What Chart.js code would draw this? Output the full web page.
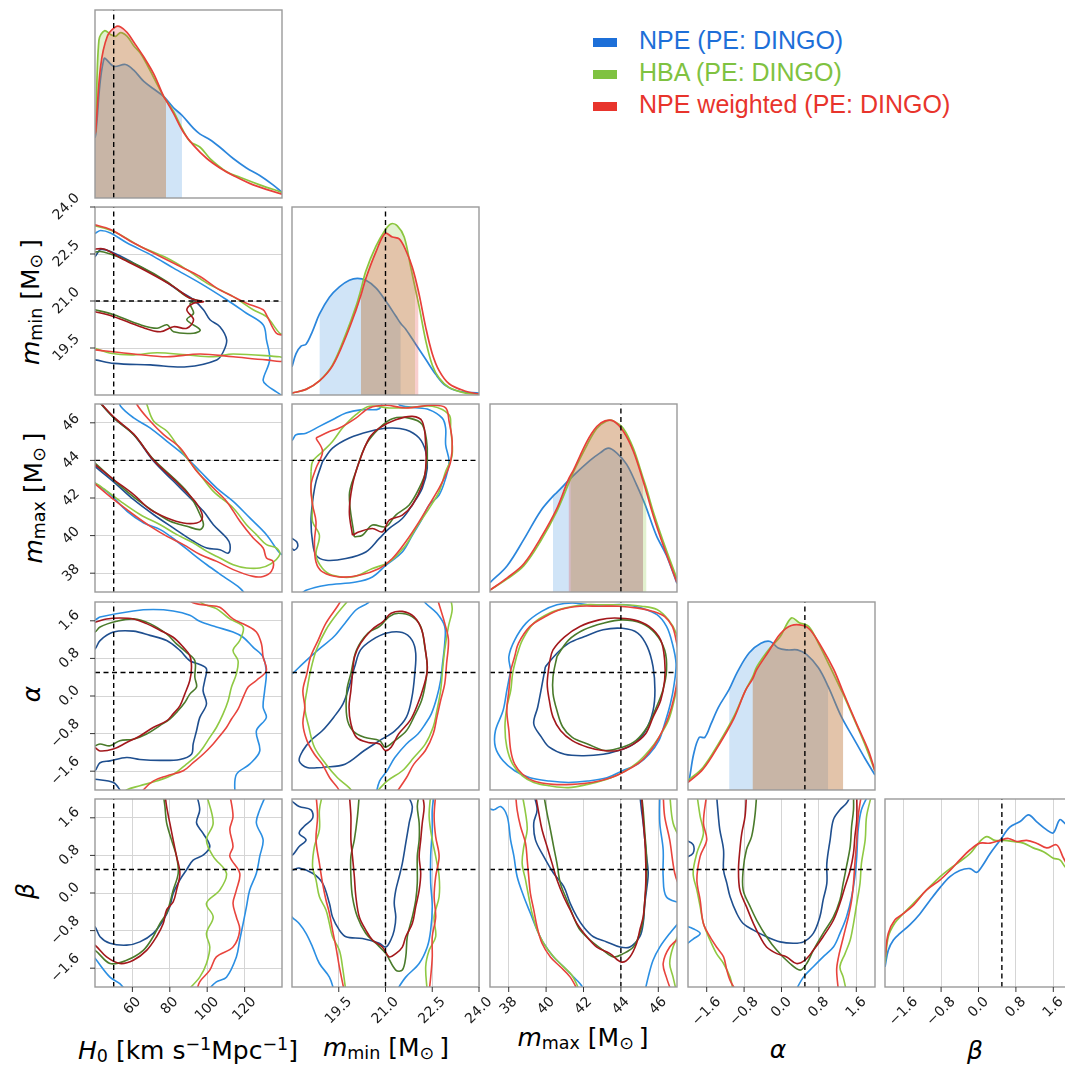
<!DOCTYPE html>
<html>
<head>
<meta charset="utf-8">
<title>Corner plot</title>
<script src="https://cdn.jsdelivr.net/npm/chart.js@4.4.1/dist/chart.umd.min.js"></script>
<style>
  html, body { margin: 0; padding: 0; background: #fff; }
  body { position: relative; width: 1065px; height: 1066px; overflow: hidden; font-family: "DejaVu Sans", sans-serif; }
  canvas { position: absolute; }
  .legend { position: absolute; left: 593px; font: 25px "Liberation Sans", Arial, sans-serif; line-height: 30px; white-space: nowrap; }
  .legend .sw { display: inline-block; width: 24px; height: 9px; margin-right: 22px; vertical-align: middle; }
  .ax { position: absolute; transform: translate(-50%, -50%); font-size: 25px; line-height: 1; white-space: nowrap; color: #000; }
  .ax.rot { transform: translate(-50%, -50%) rotate(-90deg); }
  .ax sub, .ax sup { font-size: 0.7em; line-height: 0; }
  .ax sub { vertical-align: -0.22em; }
  .ax sup { vertical-align: 0.5em; }
</style>
</head>
<body>

<div class="legend" style="top:25px;color:#1d6fd8"><span class="sw" style="background:#1d6fd8"></span>NPE (PE: DINGO)</div>
<div class="legend" style="top:57px;color:#7fc241"><span class="sw" style="background:#7fc241"></span>HBA (PE: DINGO)</div>
<div class="legend" style="top:89px;color:#e8342c"><span class="sw" style="background:#e8342c"></span>NPE weighted (PE: DINGO)</div>

<div class="ax" style="left:188px;top:1050px"><i>H</i><sub>0</sub> [km s<sup>−1</sup>Mpc<sup>−1</sup>]</div>
<div class="ax" style="left:386px;top:1047px"><i>m</i><sub>min</sub> [M<sub>⊙</sub>&thinsp;]</div>
<div class="ax" style="left:583px;top:1037px"><i>m</i><sub>max</sub> [M<sub>⊙</sub>&thinsp;]</div>
<div class="ax" style="left:778px;top:1049px"><i>α</i></div>
<div class="ax" style="left:975px;top:1050px"><i>β</i></div>
<div class="ax rot" style="left:30px;top:302px"><i>m</i><sub>min</sub> [M<sub>⊙</sub>&thinsp;]</div>
<div class="ax rot" style="left:33px;top:498px"><i>m</i><sub>max</sub> [M<sub>⊙</sub>&thinsp;]</div>
<div class="ax rot" style="left:31px;top:694px"><i>α</i></div>
<div class="ax rot" style="left:25px;top:891px"><i>β</i></div>

<script>
'use strict';

// parameters: H0, m_min, m_max, alpha, beta
const RANGES = [[40, 140], [18, 24], [37, 47], [-2, 2], [-2, 2]];
const TICKS = [
  [60, 80, 100, 120],
  [19.5, 21.0, 22.5, 24.0],
  [38, 40, 42, 44, 46],
  [-1.6, -0.8, 0.0, 0.8, 1.6],
  [-1.6, -0.8, 0.0, 0.8, 1.6]
];
const DECIMALS = [0, 1, 0, 1, 1];
const TRUTH = [50, 21.0, 44, 0.5, 0.5];

// ---- 1D marginals (relative density) and credible intervals ----
const H0_NPE = [[40,0.32],[40.4,0.34],[44.8,0.74],[50.1,0.70],[56.3,0.71],[60.7,0.68],[66.1,0.62],[71.4,0.58],[76.7,0.54],[82.0,0.48],[86.5,0.44],[92.7,0.37],[96.2,0.34],[101.5,0.31],[106.8,0.27],[113.9,0.21],[121.0,0.16],[128.1,0.12],[135.2,0.07],[140,0.03]];
const H0_HBA = [[40,0.34],[40.4,0.36],[42.1,0.84],[45.1,0.89],[48.3,0.87],[51.0,0.86],[53.7,0.88],[57.2,0.86],[60.7,0.81],[64.3,0.77],[67.8,0.71],[71.4,0.64],[76.7,0.54],[78.0,0.52],[82.0,0.46],[86.5,0.37],[90.9,0.30],[96.2,0.27],[101.5,0.21],[110.4,0.14],[117.5,0.11],[128.1,0.07],[140,0.03]];
const H0_NPEW = [[40,0.34],[40.4,0.36],[43.0,0.70],[46.6,0.86],[51.0,0.91],[53.7,0.91],[57.2,0.88],[60.7,0.83],[66.1,0.75],[71.4,0.66],[76.7,0.54],[78.0,0.52],[82.0,0.45],[87.3,0.35],[92.7,0.28],[99.8,0.21],[106.8,0.16],[113.9,0.12],[124.6,0.07],[140,0.02]];
const H0_CI = [[40, 86.5], [40, 78.0], [40, 78.0]];

const MMIN_NPE = [[18.0,0.15],[18.13,0.22],[18.29,0.26],[18.45,0.27],[18.66,0.34],[18.88,0.43],[19.2,0.52],[19.52,0.575],[19.84,0.61],[20.1,0.62],[20.37,0.61],[20.69,0.57],[21.01,0.50],[21.33,0.42],[21.49,0.38],[21.65,0.35],[21.97,0.27],[22.29,0.19],[22.61,0.11],[22.93,0.05],[23.36,0.02],[24,0.01]];
const MMIN_HBA = [[18,0.01],[18.45,0.03],[18.88,0.075],[19.3,0.16],[19.73,0.325],[20.05,0.47],[20.21,0.56],[20.37,0.66],[20.69,0.79],[20.96,0.87],[21.17,0.91],[21.38,0.90],[21.6,0.84],[21.81,0.68],[21.95,0.57],[22.08,0.47],[22.29,0.29],[22.5,0.16],[22.72,0.09],[23.04,0.04],[23.57,0.01],[24,0.005]];
const MMIN_NPEW = [[18,0.01],[18.45,0.03],[18.88,0.075],[19.3,0.155],[19.73,0.31],[20.05,0.45],[20.21,0.53],[20.37,0.62],[20.69,0.76],[20.99,0.86],[21.22,0.84],[21.44,0.83],[21.65,0.77],[21.86,0.68],[22.06,0.55],[22.29,0.36],[22.5,0.22],[22.72,0.13],[23.04,0.06],[23.57,0.02],[24,0.005]];
const MMIN_CI = [[18.88, 21.49], [20.21, 21.95], [20.21, 22.06]];

const MMAX_NPE = [[37,0.05],[37.92,0.14],[38.81,0.28],[39.7,0.43],[40.37,0.51],[40.58,0.53],[41.47,0.62],[42.35,0.70],[42.89,0.74],[43.33,0.765],[43.77,0.74],[44.3,0.68],[44.84,0.57],[45.19,0.49],[45.37,0.445],[45.9,0.30],[46.43,0.196],[47,0.045]];
const MMAX_HBA = [[37,0.01],[37.92,0.07],[38.81,0.14],[39.7,0.27],[40.58,0.43],[41.3,0.60],[41.47,0.64],[42.18,0.78],[42.71,0.87],[43.24,0.91],[43.6,0.91],[44.13,0.87],[44.66,0.765],[45.19,0.605],[45.37,0.55],[45.72,0.43],[46.26,0.27],[47,0.07]];
const MMAX_NPEW = [[37,0.01],[37.92,0.075],[38.81,0.15],[39.7,0.285],[40.58,0.445],[41.2,0.60],[41.47,0.65],[42.18,0.80],[42.71,0.88],[43.15,0.91],[43.6,0.91],[44.13,0.855],[44.66,0.75],[45.19,0.59],[45.72,0.41],[46.26,0.25],[47,0.05]];
const MMAX_CI = [[40.37, 45.19], [41.3, 45.37], [41.2, 45.19]];

const ALPHA_NPE = [[-2,0.04],[-1.97,0.06],[-1.88,0.19],[-1.76,0.28],[-1.64,0.28],[-1.51,0.35],[-1.35,0.44],[-1.12,0.535],[-0.94,0.63],[-0.69,0.73],[-0.44,0.78],[-0.24,0.79],[-0.07,0.755],[0.13,0.745],[0.34,0.745],[0.54,0.72],[0.79,0.65],[1.0,0.55],[1.28,0.39],[1.53,0.28],[1.78,0.17],[2.0,0.08]];
const ALPHA_HBA = [[-2,0.05],[-1.68,0.12],[-1.35,0.245],[-1.02,0.39],[-0.77,0.53],[-0.62,0.60],[-0.53,0.655],[-0.28,0.745],[-0.03,0.815],[0.21,0.915],[0.38,0.89],[0.58,0.87],[0.79,0.78],[1.04,0.655],[1.28,0.53],[1.32,0.51],[1.53,0.39],[1.78,0.245],[2.0,0.10]];
const ALPHA_NPEW = [[-2,0.04],[-1.68,0.11],[-1.35,0.235],[-1.02,0.38],[-0.77,0.53],[-0.62,0.59],[-0.53,0.64],[-0.28,0.735],[-0.03,0.83],[0.21,0.875],[0.46,0.875],[0.62,0.85],[0.87,0.755],[1.12,0.64],[1.32,0.52],[1.61,0.35],[1.86,0.21],[2.0,0.10]];
const ALPHA_CI = [[-1.12, 1.0], [-0.62, 1.32], [-0.62, 1.32]];

const BETA_NPE = [[-2,0.107],[-1.93,0.196],[-1.82,0.25],[-1.68,0.285],[-1.47,0.33],[-1.25,0.39],[-1.04,0.46],[-0.82,0.53],[-0.61,0.587],[-0.40,0.62],[-0.18,0.63],[-0.04,0.61],[0.07,0.64],[0.25,0.71],[0.46,0.78],[0.67,0.85],[0.89,0.88],[1.07,0.916],[1.24,0.88],[1.46,0.836],[1.60,0.82],[1.74,0.89],[1.85,0.87],[2.0,0.85]];
const BETA_HBA = [[-2,0.125],[-1.93,0.267],[-1.79,0.34],[-1.61,0.39],[-1.39,0.445],[-1.11,0.516],[-0.82,0.587],[-0.61,0.63],[-0.40,0.667],[-0.18,0.71],[0.03,0.774],[0.18,0.80],[0.35,0.78],[0.53,0.78],[0.74,0.774],[0.96,0.765],[1.17,0.74],[1.39,0.72],[1.60,0.685],[1.74,0.676],[1.85,0.64],[2.0,0.6]];
const BETA_NPEW = [[-2,0.16],[-1.93,0.285],[-1.79,0.356],[-1.61,0.39],[-1.39,0.436],[-1.11,0.516],[-0.82,0.57],[-0.61,0.62],[-0.40,0.676],[-0.18,0.73],[0.03,0.765],[0.25,0.765],[0.46,0.78],[0.64,0.79],[0.82,0.774],[1.03,0.78],[1.24,0.765],[1.46,0.74],[1.67,0.756],[1.81,0.69],[2.0,0.6]];
const BETA_CI = [null, null, null];

// ---- 2D contours (50% and 90%), each a list of pieces ----
// m_min vs H0
const MMIN_H0_NPE_90 = [[[38,23.1],[40.4,23.17],[43.0,23.25],[48.3,23.17],[57.2,22.85],[69.6,22.48],[82.0,22.05],[96.2,21.57],[110.4,21.04],[121.0,20.61],[129.9,20.24],[131.7,19.76],[133.4,19.12],[129.9,18.48],[131.7,18.32],[137.0,18.10],[142,17.9]]];
const MMIN_H0_NPE_50 = [[[38,22.4],[40,22.42],[43.0,22.64],[48.3,22.58],[60.7,22.21],[74.9,21.73],[85.6,21.30],[92.7,21.04],[98.0,20.72],[101.5,20.40],[106.8,20.18],[110.4,19.76],[108.6,19.38],[105.1,19.12],[89.1,18.90],[69.6,18.96],[50.1,19.01],[40,19.12],[38,19.12]]];
const MMIN_H0_HBA_50 = [[[38,22.53],[43.0,22.58],[51.9,22.42],[64.3,22.10],[78.5,21.62],[89.1,21.14],[96.2,20.98],[90.9,20.93],[92.7,20.61],[89.1,20.40],[96.2,20.08],[92.7,19.97],[82.0,20.02],[78.5,20.24],[73.2,20.13],[64.3,20.24],[50.1,20.56],[40,20.72],[38,20.74]]];
const MMIN_H0_NPEW_50 = [[[38,22.64],[44.8,22.66],[53.7,22.37],[67.8,21.94],[82.0,21.46],[90.9,21.09],[98.0,20.98],[92.7,20.93],[89.1,20.72],[92.7,20.40],[89.1,20.13],[82.0,20.18],[74.9,20.02],[64.3,20.18],[50.1,20.50],[40,20.66],[38,20.68]]];
const MMIN_H0_HBA_90 = [[[38,23.42],[40,23.40],[50.1,23.22],[64.3,22.74],[78.5,22.37],[89.1,22.0],[99.8,21.57],[113.9,21.14],[124.6,20.72],[131.7,20.50],[138.8,19.97],[142,19.9],[142,19.2],[138.8,19.22],[113.9,19.31],[103.3,19.22],[89.1,19.28],[73.2,19.35],[60.7,19.28],[48.3,19.33],[40,19.49],[38,19.5]]];
const MMIN_H0_NPEW_90 = [[[38,23.45],[40,23.43],[48.3,23.28],[60.7,22.85],[74.9,22.42],[85.6,22.10],[96.2,21.78],[105.1,21.41],[113.9,21.14],[121.0,20.93],[129.9,20.72],[131.7,20.56],[137.0,19.97],[142,19.86],[142,19.12],[131.7,19.12],[113.9,19.22],[96.2,19.31],[78.5,19.22],[60.7,19.31],[40,19.44],[38,19.45]]];

// m_max vs H0
const MMAX_H0_NPE_90 = [
  [[52.8,47.3],[53.7,46.88],[60.7,46.26],[69.6,45.72],[78.5,45.01],[87.3,44.30],[96.2,43.42],[105.1,42.53],[113.9,41.82],[122.8,40.94],[131.7,40.05],[138.8,39.07],[142,38.9]],
  [[38,42.95],[40,42.8],[48.3,42.18],[57.2,41.29],[66.1,40.67],[74.9,40.32],[83.8,39.70],[92.7,38.99],[99.8,38.45],[108.6,37.83],[117.5,37.21],[121,36.8]]
];
const MMAX_H0_NPE_50 = [[[38,47.6],[50.1,46.26],[60.7,45.37],[71.4,43.95],[82.0,42.89],[90.9,42.0],[98.0,41.29],[103.3,40.58],[110.4,39.87],[112.2,39.52],[111.3,39.07],[106.8,39.25],[99.8,39.34],[92.7,39.70],[82.0,40.40],[71.4,41.11],[60.7,41.91],[50.1,42.85],[40,43.68],[38,43.9]]];
const MMAX_H0_HBA_50 = [[[38,47.6],[50.1,46.26],[60.7,45.37],[71.4,44.04],[82.0,43.06],[89.1,42.35],[92.7,41.82],[96.2,41.11],[98.0,40.58],[96.2,40.32],[89.1,40.5],[80.2,40.76],[71.4,41.29],[62.5,41.91],[52.8,42.71],[40,43.86],[38,44.0]]];
const MMAX_H0_NPEW_50 = [[[38,47.6],[50.1,46.3],[60.7,45.4],[71.4,44.0],[82.0,43.0],[89.1,42.3],[94.4,41.7],[97.1,41.2],[97.1,40.85],[94.4,40.67],[87.3,40.67],[78.5,40.94],[69.6,41.38],[60.7,42.18],[50.1,42.97],[40,43.77],[38,43.9]]];
const MMAX_H0_NPEW_90 = [[[62.2,47.3],[62.5,46.96],[69.6,46.08],[76.7,45.37],[85.6,44.66],[94.4,43.42],[103.3,42.53],[110.4,41.82],[117.5,40.76],[124.6,39.87],[129.9,39.34],[131.7,38.81],[135.2,38.63],[134.3,38.10],[129.9,37.83],[124.6,37.83],[113.9,38.19],[105.1,38.63],[96.2,38.99],[87.3,39.52],[78.5,39.96],[69.6,40.49],[60.7,41.11],[50.1,41.91],[40,42.75],[38,42.9]]];
const MMAX_H0_HBA_90 = [[[67,47.3],[67.8,46.96],[71.4,46.08],[78.5,45.55],[83.8,44.84],[89.1,44.13],[96.2,43.24],[103.3,42.35],[113.9,41.47],[121.0,40.58],[126.3,40.05],[131.7,39.52],[137.0,39.34],[138.8,39.0],[134,38.5],[128.1,38.28],[121,38.28],[113.9,38.45],[106.8,38.81],[99.8,39.16],[92.7,39.61],[83.8,40.05],[74.9,40.58],[64.3,41.11],[53.7,41.82],[43.0,42.62],[40,42.80],[38,42.95]]];

// alpha vs H0
const ALPHA_H0_NPE_90 = [[[38,1.66],[40,1.62],[42.7,1.68],[60.5,1.81],[71.1,1.84],[81.8,1.81],[90.7,1.72],[96.0,1.59],[104.9,1.47],[113.8,1.36],[119.2,1.25],[124.5,1.04],[129.9,0.83],[131.6,0.47],[130.7,0.11],[129.9,-0.24],[131.6,-0.46],[126.3,-0.74],[128.1,-1.17],[122.7,-1.45],[115.6,-1.67],[114.7,-2.1]]];
const ALPHA_H0_NPE_50 = [
  [[38,1.0],[40,1.0],[42.7,1.18],[49.8,1.36],[60.5,1.38],[69.4,1.29],[78.3,1.18],[85.4,0.97],[90.7,0.75],[96.0,0.67],[99.6,0.58],[98.7,0.33],[97.8,0.11],[99.6,-0.17],[96.0,-0.46],[94.3,-0.74],[92.5,-1.02],[91.6,-1.24],[85.4,-1.35],[74.7,-1.37],[64.0,-1.35],[56.9,-1.31],[48.0,-1.38],[42.7,-1.42],[40,-1.59],[38,-1.6]],
  [[38,-1.76],[40,-1.77],[49.8,-1.84],[53.3,-2.0],[54,-2.1]]
];
const ALPHA_H0_NPEW_50 = [[[38,1.58],[40,1.57],[46.2,1.64],[53.3,1.66],[60.5,1.64],[67.6,1.54],[74.7,1.40],[81.8,1.25],[87.2,1.04],[90.7,0.86],[91.6,0.61],[90.7,0.33],[88.0,0.04],[85.4,-0.21],[81.8,-0.38],[78.3,-0.53],[71.1,-0.67],[64.0,-0.85],[56.9,-0.99],[49.8,-1.13],[42.7,-1.17],[40,-1.10],[38,-1.1]]];
const ALPHA_H0_HBA_50 = [[[38,1.4],[40,1.36],[42.7,1.47],[51.6,1.59],[60.5,1.64],[69.4,1.54],[78.3,1.32],[83.6,1.11],[88.9,0.93],[93.4,0.75],[93.4,0.40],[94.3,0.19],[90.7,0.04],[88.0,-0.14],[84.5,-0.31],[80.0,-0.49],[74.7,-0.63],[67.6,-0.81],[60.5,-0.92],[53.3,-0.95],[48.0,-1.06],[42.7,-1.02],[40,-1.06],[38,-1.06]]];
const ALPHA_H0_NPEW_90 = [[[91,2.15],[91.6,2.0],[99.6,1.93],[106.7,1.89],[113.8,1.64],[121.0,1.50],[126.3,1.36],[129.0,1.11],[129.9,0.83],[131.6,0.54],[126.3,0.33],[121.9,0.19],[119.2,-0.03],[116.5,-0.28],[113.0,-0.49],[110.3,-0.67],[106.7,-0.85],[103.2,-1.02],[97.8,-1.24],[92.5,-1.42],[87.2,-1.59],[78.3,-1.70],[71.1,-1.81],[65.8,-2.0],[64.9,-2.1]]];
const ALPHA_H0_HBA_90 = [[[93.4,2.1],[97.8,1.96],[104.9,1.86],[112.1,1.64],[119.2,1.47],[117.4,1.18],[113.8,0.97],[116.5,0.75],[115.6,0.47],[113.0,0.19],[111.2,-0.10],[108.5,-0.38],[104.9,-0.67],[101.4,-0.88],[97.8,-1.10],[94.3,-1.27],[88.9,-1.45],[81.8,-1.67],[72.9,-1.81],[64.0,-1.91],[56.9,-2.0],[55.1,-2.1]]];

// beta vs H0
const BETA_H0_NPEW_50 = [[[38,-1.1],[40,-1.11],[46.2,-1.36],[53.3,-1.50],[60.5,-1.43],[67.6,-1.22],[72.9,-0.93],[76.5,-0.65],[78.3,-0.36],[81.8,-0.19],[83.6,0.06],[85.4,0.42],[83.6,0.78],[81.8,1.13],[80.0,1.49],[78.3,1.84],[77.4,2.1]]];
const BETA_H0_HBA_50 = [[[38,-1.25],[40,-1.22],[48.0,-1.50],[56.9,-1.43],[65.8,-1.22],[71.1,-0.93],[74.7,-0.65],[78.3,-0.43],[80.0,-0.22],[81.8,0.06],[84.5,0.42],[83.6,0.78],[80.9,1.13],[78.3,1.49],[77.4,1.84],[76.5,2.1]]];
const BETA_H0_NPE_50 = [[[38,-0.72],[40,-0.72],[42.7,-0.93],[48.0,-1.07],[56.9,-1.11],[64.0,-1.04],[71.1,-0.86],[76.5,-0.58],[80.0,-0.29],[81.8,-0.01],[85.4,0.28],[88.9,0.49],[92.5,0.70],[98.0,0.81],[101.4,0.99],[97.8,1.27],[94.3,1.49],[96.0,1.77],[94.3,2.1]]];
const BETA_H0_NPE_90 = [
  [[131.6,2.1],[128.1,1.77],[126.3,1.49],[129.9,1.13],[128.1,0.78],[126.3,0.42],[122.7,0.06],[121.0,-0.29],[119.2,-0.65],[117.4,-1.0],[115.6,-1.36],[110.3,-1.79],[104.9,-1.89],[99.6,-2.1]],
  [[38,-1.3],[40,-1.39],[48.0,-1.79],[53.3,-1.93],[56.9,-2.1]]
];
const BETA_H0_NPEW_90 = [[[112.1,2.1],[113.8,1.63],[112.1,1.35],[113.8,0.99],[112.1,0.78],[117.4,0.42],[115.6,0.06],[113.8,-0.22],[115.6,-0.51],[117.4,-0.79],[113.8,-1.15],[104.9,-1.36],[101.4,-1.64],[96.0,-1.89],[94.3,-2.1]]];
const BETA_H0_HBA_90 = [[[99.6,2.1],[103.2,1.49],[99.6,1.13],[103.2,0.78],[110.3,0.42],[106.7,0.06],[99.6,-0.22],[103.2,-0.51],[99.6,-0.86],[101.4,-1.15],[99.6,-1.50],[96.0,-1.79],[88.9,-2.1]]];

// m_max vs m_min
const MMAX_MMIN_NPE_90 = [
  [[17.98,45.06],[18.02,45.10],[18.13,45.36],[18.45,45.45],[18.88,45.81],[19.30,46.16],[19.73,46.52],[20.26,46.70],[20.80,46.75],[20.92,47.3]],
  [[21.36,47.3],[21.44,46.96],[21.86,46.82],[22.40,46.70],[22.82,46.25],[22.93,45.72],[22.93,44.83],[23.04,43.94],[22.93,43.05],[22.72,42.16],[22.40,41.63],[22.18,40.91],[21.86,40.02],[21.54,39.13],[21.01,38.42],[20.58,37.80],[20.05,37.53],[19.09,37.36],[18.45,37.09],[18.23,36.8]]
];
const MMAX_MMIN_NPE_50 = [
  [[18.98,43.94],[18.77,42.87],[18.66,41.80],[18.61,40.74],[18.66,39.67],[18.77,38.96],[19.09,38.69],[19.73,38.78],[20.37,39.13],[20.80,39.85],[21.12,40.38],[21.54,40.91],[21.86,41.63],[22.18,42.52],[22.34,43.58],[22.29,44.47],[22.08,45.19],[21.65,45.63],[21.12,45.72],[20.48,45.54],[19.84,45.19],[19.30,44.65],[18.98,43.94]],
  [[17.9,39.9],[18.0,39.85],[18.15,39.67],[18.18,39.40],[18.07,39.22],[18.0,39.31],[17.9,39.3]]
];
const MMAX_MMIN_NPEW_50 = [[[19.94,40.02],[19.84,41.27],[19.94,42.69],[20.16,43.94],[20.48,45.19],[20.80,45.72],[21.33,46.16],[21.86,46.34],[22.18,46.07],[22.29,44.83],[22.29,43.58],[22.18,42.69],[21.86,41.63],[21.54,41.09],[21.12,40.82],[20.90,40.20],[20.58,40.38],[20.16,40.20],[19.94,40.02]]];
const MMAX_MMIN_HBA_50 = [[[20.0,39.93],[19.84,42.16],[20.05,43.41],[20.37,44.83],[20.80,45.72],[21.22,46.22],[21.76,46.25],[22.18,45.90],[22.34,44.65],[22.29,43.41],[22.08,42.52],[21.76,41.63],[21.33,41.09],[21.01,40.47],[20.58,40.56],[20.26,40.02],[20.0,39.93]]];
const MMAX_MMIN_NPEW_90 = [[[18.77,45.19],[19.20,45.54],[19.52,45.72],[20.05,46.25],[20.48,46.79],[21.01,46.93],[21.65,46.79],[22.50,46.93],[22.93,46.79],[23.04,46.07],[23.14,45.01],[23.09,43.94],[22.93,43.23],[22.72,42.52],[22.40,41.63],[22.08,40.74],[21.65,39.67],[21.22,38.78],[20.80,38.25],[20.16,37.89],[19.52,37.80],[18.98,38.07],[18.77,38.60],[18.72,39.67],[18.77,40.74],[18.66,41.63],[18.61,42.69],[18.77,43.58],[18.98,44.47],[18.77,45.19]]];
const MMAX_MMIN_HBA_90 = [[[18.61,43.41],[18.66,43.94],[18.98,44.47],[19.30,45.01],[19.62,45.72],[20.05,46.43],[20.48,46.88],[21.12,46.79],[21.86,46.82],[22.50,46.88],[23.04,46.43],[23.09,45.72],[23.14,44.29],[22.93,43.41],[22.72,42.34],[22.40,41.45],[21.97,40.38],[21.65,39.49],[21.12,38.60],[20.58,38.25],[19.94,37.80],[19.30,37.89],[18.98,38.25],[18.77,38.96],[18.88,40.02],[18.66,40.74],[18.66,41.63],[18.61,42.52],[18.61,43.41]]];

// alpha vs m_min
const ALPHA_MMIN_NPE_90 = [
  [[17.9,0.44],[18.02,0.48],[18.35,0.69],[18.84,0.98],[19.34,1.26],[19.70,1.55],[20.07,1.84],[20.44,1.98],[20.56,2.1]],
  [[22.16,2.1],[22.28,1.98],[22.65,1.76],[22.90,1.48],[22.90,1.12],[22.83,0.69],[22.77,0.34],[22.65,-0.02],[22.47,-0.38],[22.28,-0.59],[22.04,-0.81],[21.67,-1.02],[21.30,-1.31],[21.05,-1.59],[20.81,-1.81],[20.69,-2.1]]
];
const ALPHA_MMIN_NPE_50 = [[[18.97,-1.52],[19.70,-1.45],[20.32,-1.16],[20.81,-0.95],[21.30,-0.74],[21.67,-0.45],[21.85,-0.02],[21.94,0.48],[21.97,0.91],[21.85,1.19],[21.54,1.35],[21.05,1.34],[20.56,1.19],[20.20,0.98],[20.01,0.62],[19.83,0.19],[19.64,-0.16],[19.34,-0.45],[18.97,-0.74],[18.60,-0.95],[18.35,-1.16],[18.23,-1.38],[18.48,-1.52],[18.97,-1.52]]];
const ALPHA_MMIN_NPEW_50 = [[[19.95,0.55],[19.89,0.12],[19.83,-0.24],[19.89,-0.59],[20.07,-0.88],[20.44,-0.99],[20.81,-1.02],[20.99,-1.16],[21.18,-1.09],[21.42,-0.81],[21.79,-0.52],[22.04,-0.16],[22.22,0.19],[22.34,0.55],[22.28,0.98],[22.16,1.41],[21.91,1.69],[21.54,1.80],[21.18,1.76],[20.93,1.59],[20.56,1.41],[20.20,1.12],[20.01,0.84],[19.95,0.55]]];
const ALPHA_MMIN_HBA_50 = [[[19.89,0.48],[19.76,0.12],[19.76,-0.45],[19.95,-0.74],[20.32,-0.88],[20.81,-0.95],[20.99,-1.09],[21.30,-0.95],[21.67,-0.74],[21.91,-0.45],[22.16,-0.09],[22.28,0.26],[22.34,0.62],[22.26,1.05],[22.13,1.48],[21.85,1.69],[21.42,1.76],[21.12,1.69],[20.81,1.48],[20.44,1.34],[20.07,0.98],[19.89,0.48]]];
const ALPHA_MMIN_NPEW_90 = [
  [[19.64,2.1],[19.46,1.91],[19.09,1.55],[18.84,1.19],[18.60,0.84],[18.48,0.48],[18.35,0.12],[18.41,-0.24],[18.35,-0.59],[18.48,-0.95],[18.72,-1.24],[18.97,-1.45],[19.21,-1.74],[19.46,-1.95],[19.58,-2.1]],
  [[21.30,-2.1],[21.67,-1.74],[21.91,-1.45],[22.28,-1.16],[22.53,-0.81],[22.65,-0.45],[22.77,-0.09],[22.90,0.26],[22.96,0.69],[23.02,1.19],[22.90,1.55],[22.77,1.84],[22.65,2.1]]
];
const ALPHA_MMIN_HBA_90 = [
  [[19.89,2.1],[19.46,1.76],[19.09,1.41],[18.78,0.98],[18.60,0.55],[18.48,0.12],[18.41,-0.24],[18.54,-0.66],[18.72,-1.09],[19.09,-1.45],[19.46,-1.74],[19.83,-1.95],[20.01,-2.1]],
  [[20.63,-2.1],[21.05,-1.81],[21.54,-1.59],[21.91,-1.31],[22.28,-1.02],[22.53,-0.66],[22.65,-0.31],[22.77,0.12],[22.83,0.55],[22.90,0.98],[23.02,1.48],[23.14,1.84],[23.08,2.1]]
];

// beta vs m_min
const BETA_MMIN_NPE_50 = [
  [[17.9,1.98],[18.0,1.95],[18.23,1.84],[18.61,1.77],[18.66,1.59],[18.39,1.42],[18.23,1.27],[18.45,1.13],[18.23,0.99],[18.02,0.81],[17.9,0.8]],
  [[17.9,0.55],[18.0,0.49],[18.23,0.53],[18.66,0.42],[18.98,0.21],[19.20,-0.22],[19.30,-0.51],[19.52,-0.79],[19.73,-0.93],[20.26,-0.97],[20.80,-1.07],[21.01,-1.15],[21.17,-1.0],[21.28,-0.79],[21.33,-0.51],[21.28,-0.22],[21.33,0.06],[21.44,0.35],[21.54,0.63],[21.65,1.06],[21.76,1.49],[21.86,1.84],[21.70,2.1]]
];
const BETA_MMIN_NPEW_50 = [[[19.84,2.1],[19.89,1.63],[19.89,1.13],[19.94,0.78],[20.0,0.35],[20.05,-0.08],[20.16,-0.51],[20.37,-0.79],[20.58,-1.0],[20.90,-1.15],[21.12,-1.36],[21.33,-1.29],[21.54,-1.15],[21.65,-0.93],[21.86,-0.65],[21.97,-0.29],[22.08,0.06],[22.13,0.42],[22.08,0.78],[22.13,1.13],[22.18,1.49],[22.24,1.84],[22.18,2.1]]];
const BETA_MMIN_HBA_50 = [[[20.16,2.1],[20.10,1.63],[20.0,1.13],[19.89,0.78],[19.89,0.35],[19.94,-0.08],[20.10,-0.51],[20.37,-0.86],[20.69,-1.07],[21.01,-1.29],[21.33,-1.64],[21.54,-1.64],[21.65,-1.36],[21.70,-0.93],[21.86,-0.51],[21.97,-0.15],[22.02,0.21],[22.02,0.78],[22.08,1.13],[22.08,1.49],[22.02,1.84],[22.08,2.1]]];
const BETA_MMIN_NPE_90 = [
  [[17.9,-0.4],[18.0,-0.51],[18.23,-0.65],[18.45,-0.86],[18.66,-1.15],[18.88,-1.50],[19.20,-1.79],[19.36,-2.1]],
  [[21.33,-2.1],[21.65,-1.79],[22.08,-1.50],[22.34,-1.15],[22.45,-0.79],[22.50,-0.29],[22.45,0.21],[22.45,0.78],[22.50,1.35],[22.50,1.77],[22.56,2.1]]
];
const BETA_MMIN_NPEW_90 = [
  [[18.77,2.1],[18.82,1.63],[18.77,1.13],[18.88,0.63],[18.98,0.21],[19.09,-0.15],[19.20,-0.43],[19.30,-0.79],[19.41,-1.15],[19.52,-1.57],[19.68,-2.1]],
  [[22.61,2.1],[22.56,1.63],[22.61,1.20],[22.72,0.78],[22.61,0.35],[22.56,-0.08],[22.61,-0.51],[22.50,-0.93],[22.50,-1.36],[22.45,-1.79],[22.40,-2.1]]
];
const BETA_MMIN_HBA_90 = [
  [[18.98,2.1],[18.88,1.77],[18.88,1.35],[18.72,0.99],[18.66,0.56],[18.77,0.28],[18.88,-0.08],[19.09,-0.36],[19.20,-0.65],[19.30,-0.93],[19.52,-1.22],[19.62,-1.57],[19.73,-2.1]],
  [[22.45,2.1],[22.40,1.63],[22.50,1.13],[22.61,0.78],[22.72,0.35],[22.72,-0.08],[22.56,-0.51],[22.61,-0.93],[22.40,-1.22],[22.29,-1.57],[22.34,-2.1]]
];

// alpha vs m_max
const ALPHA_MMAX_NPE_90 = [[[38.11,0.55],[38.01,0.84],[38.32,1.19],[38.93,1.55],[39.76,1.80],[40.58,1.94],[41.40,1.98],[42.22,1.94],[43.25,1.94],[44.28,1.94],[45.10,1.87],[45.93,1.73],[46.44,1.48],[46.75,1.12],[46.95,0.69],[46.85,0.26],[46.65,-0.16],[46.34,-0.59],[46.03,-0.95],[45.51,-1.24],[44.90,-1.45],[44.08,-1.59],[43.25,-1.74],[42.22,-1.81],[41.20,-1.84],[40.17,-1.81],[39.14,-1.74],[38.32,-1.59],[37.70,-1.38],[37.29,-1.09],[37.29,-0.74],[37.70,-0.31],[37.90,0.12],[38.11,0.55]]];
const ALPHA_MMAX_NPE_50 = [[[39.96,0.62],[39.76,0.19],[39.55,-0.24],[39.34,-0.59],[39.76,-0.88],[40.17,-1.09],[40.99,-1.24],[42.02,-1.27],[43.05,-1.24],[43.87,-1.16],[44.69,-1.02],[45.31,-0.74],[45.72,-0.31],[45.82,0.12],[45.72,0.62],[45.41,1.05],[44.90,1.34],[44.08,1.44],[43.05,1.41],[42.02,1.26],[41.20,1.12],[40.58,0.91],[39.96,0.62]]];
const ALPHA_MMAX_NPEW_50 = [[[40.17,0.69],[40.37,0.98],[40.99,1.26],[41.81,1.48],[42.84,1.62],[43.66,1.66],[44.69,1.62],[45.51,1.48],[46.13,1.19],[46.34,0.76],[46.34,0.34],[46.13,-0.09],[45.72,-0.45],[45.31,-0.81],[44.69,-1.02],[43.87,-1.16],[43.05,-1.16],[42.22,-1.09],[41.40,-0.95],[40.78,-0.74],[40.37,-0.45],[40.17,-0.09],[40.06,0.26],[40.17,0.69]]];
const ALPHA_MMAX_HBA_50 = [[[40.58,0.84],[41.20,1.19],[42.02,1.41],[43.05,1.55],[44.08,1.62],[45.10,1.55],[45.82,1.34],[46.34,0.98],[46.44,0.55],[46.24,0.12],[45.82,-0.31],[45.41,-0.66],[44.80,-0.95],[44.08,-1.09],[43.15,-1.16],[42.22,-1.02],[41.40,-0.88],[40.89,-0.66],[40.58,-0.31],[40.37,0.05],[40.37,0.41],[40.58,0.84]]];
const ALPHA_MMAX_NPEW_90 = [[[38.11,0.55],[38.32,0.84],[38.52,1.12],[39.14,1.48],[39.96,1.69],[40.78,1.84],[41.81,1.91],[42.84,1.91],[43.87,1.91],[44.90,1.87],[45.72,1.80],[46.34,1.69],[46.75,1.48],[46.95,1.19],[47.1,0.84],[47.06,0.48],[46.85,-0.02],[46.54,-0.45],[46.13,-0.81],[45.72,-1.09],[45.10,-1.38],[44.28,-1.59],[43.46,-1.74],[42.43,-1.84],[41.40,-1.88],[40.37,-1.88],[39.34,-1.81],[38.73,-1.66],[38.32,-1.45],[38.11,-1.16],[38.01,-0.74],[37.90,-0.31],[38.01,0.12],[38.11,0.55]]];
const ALPHA_MMAX_HBA_90 = [[[38.42,0.84],[38.73,1.19],[39.34,1.55],[40.17,1.76],[40.99,1.87],[42.02,1.94],[43.05,1.94],[44.08,1.94],[45.10,1.91],[45.93,1.84],[46.54,1.62],[46.95,1.34],[47.2,0.84],[47.06,0.34],[46.85,-0.09],[46.54,-0.52],[46.03,-0.88],[45.51,-1.16],[44.90,-1.41],[44.08,-1.63],[43.25,-1.77],[42.22,-1.88],[41.20,-1.95],[40.17,-1.91],[39.34,-1.84],[38.73,-1.70],[38.21,-1.45],[37.90,-1.09],[37.80,-0.66],[37.90,-0.24],[38.11,0.12],[38.21,0.48],[38.42,0.84]]];

// beta vs m_max
const BETA_MMAX_NPE_90 = [
  [[36.86,1.81],[37.21,1.77],[37.57,1.84],[37.92,1.63],[38.10,1.13],[38.28,0.78],[38.45,0.35],[38.81,-0.08],[39.16,-0.43],[39.52,-0.79],[39.87,-1.07],[40.40,-1.36],[40.94,-1.57],[41.47,-1.79],[41.82,-1.93],[42.09,-2.1]],
  [[46.08,2.1],[46.08,1.49],[46.26,0.92],[46.26,0.35],[46.43,-0.08],[47.2,-0.22]],
  [[47.2,-0.58],[46.61,-0.86],[46.08,-1.15],[45.72,-1.43],[45.46,-1.79],[45.28,-2.1]]
];
const BETA_MMAX_NPEW_90 = [
  [[38.37,2.1],[38.45,1.77],[38.63,1.42],[38.90,1.06],[38.99,0.70],[39.07,0.35],[39.16,-0.01],[39.34,-0.36],[39.52,-0.72],[39.78,-1.07],[40.23,-1.36],[40.76,-1.57],[41.29,-1.79],[41.73,-2.1]],
  [[46.26,2.1],[46.34,1.63],[46.61,1.13],[46.88,0.42],[47.2,0.06]],
  [[47.2,-0.93],[46.61,-1.15],[46.26,-1.50],[46.43,-1.79],[46.70,-2.1]]
];
const BETA_MMAX_HBA_90 = [
  [[38.72,2.1],[38.90,1.70],[38.99,1.35],[38.81,0.99],[38.72,0.63],[38.90,0.28],[39.07,-0.08],[39.25,-0.43],[39.52,-0.79],[39.87,-1.07],[40.32,-1.32],[40.85,-1.54],[41.38,-1.75],[41.82,-2.1]],
  [[46.61,2.1],[46.79,1.49],[47.2,1.13]],
  [[47.2,-0.79],[46.79,-1.15],[46.61,-1.50],[46.79,-1.79],[46.97,-2.1]]
];
const BETA_MMAX_NPE_50 = [[[39.34,2.1],[39.52,1.77],[39.34,1.49],[39.43,1.13],[39.87,0.78],[40.40,0.42],[40.94,0.14],[41.29,-0.22],[41.65,-0.51],[42.0,-0.72],[42.53,-0.93],[43.24,-1.04],[43.95,-1.15],[44.48,-1.15],[45.01,-0.93],[45.19,-0.65],[45.28,-0.22],[45.37,0.06],[45.46,0.42],[45.37,0.78],[45.28,1.13],[45.19,1.49],[45.10,1.77],[45.01,2.1]]];
const BETA_MMAX_NPEW_50 = [[[39.43,2.1],[39.61,1.70],[39.78,1.35],[40.05,0.99],[40.32,0.63],[40.58,0.28],[40.94,-0.08],[41.29,-0.36],[41.65,-0.65],[42.18,-0.93],[42.71,-1.15],[43.42,-1.29],[44.04,-1.47],[44.48,-1.36],[44.84,-1.07],[45.01,-0.79],[45.19,-0.51],[45.28,-0.15],[45.33,0.21],[45.33,0.63],[45.28,1.13],[45.19,1.56],[45.10,2.1]]];
const BETA_MMAX_HBA_50 = [[[39.87,2.1],[40.05,1.70],[40.23,1.35],[40.40,0.99],[40.58,0.63],[40.76,0.21],[41.11,-0.15],[41.47,-0.51],[41.82,-0.79],[42.35,-1.0],[43.06,-1.22],[43.60,-1.36],[44.13,-1.29],[44.66,-1.15],[45.01,-0.86],[45.19,-0.58],[45.28,-0.15],[45.37,0.28],[45.37,0.78],[45.28,1.27],[45.19,1.77],[45.10,2.1]]];

// beta vs alpha
const BETA_ALPHA_NPE_50 = [
  [[-1.39,2.1],[-1.35,1.63],[-1.32,1.35],[-1.24,0.92],[-1.24,0.49],[-1.17,0.21],[-1.10,-0.08],[-0.96,-0.43],[-0.82,-0.65],[-0.60,-0.79],[-0.32,-0.93],[-0.03,-1.04],[0.25,-1.07],[0.47,-1.04],[0.68,-0.86],[0.82,-0.51],[0.89,-0.15],[0.97,0.21],[0.97,0.63],[1.04,1.13],[1.11,1.56],[1.25,1.77],[1.39,1.91],[1.50,2.1]],
  [[-2.06,1.13],[-1.89,1.03],[-1.89,0.85],[-2.06,0.74]]
];
const BETA_ALPHA_NPEW_50 = [[[-0.75,2.1],[-0.78,1.63],[-0.85,1.27],[-0.89,0.92],[-0.92,0.49],[-0.89,0.06],[-0.75,-0.29],[-0.60,-0.65],[-0.46,-0.93],[-0.32,-1.15],[-0.10,-1.29],[0.11,-1.36],[0.32,-1.50],[0.50,-1.43],[0.68,-1.22],[0.89,-0.93],[1.11,-0.58],[1.25,-0.22],[1.36,0.14],[1.47,0.49],[1.54,0.85],[1.57,1.20],[1.61,1.56],[1.61,2.1]]];
const BETA_ALPHA_HBA_50 = [[[-0.53,2.1],[-0.57,1.63],[-0.64,1.20],[-0.75,0.92],[-0.82,0.49],[-0.82,0.06],[-0.67,-0.29],[-0.53,-0.58],[-0.32,-0.93],[-0.10,-1.22],[0.18,-1.50],[0.40,-1.64],[0.54,-1.50],[0.68,-1.22],[0.89,-0.86],[1.11,-0.51],[1.25,-0.15],[1.32,0.21],[1.39,0.56],[1.47,0.99],[1.50,1.42],[1.54,1.77],[1.54,2.1]]];
const BETA_ALPHA_NPE_90 = [
  [[1.86,2.1],[1.71,1.77],[1.64,1.35],[1.61,0.78],[1.57,0.35],[1.50,-0.08],[1.39,-0.51],[1.25,-0.86],[1.11,-1.15],[0.89,-1.36],[0.68,-1.57],[0.47,-1.79],[0.29,-2.1]],
  [[-2.05,-1.1],[-1.89,-0.98],[-1.74,-0.86],[-1.89,-0.76],[-2.05,-0.7]]
];
const BETA_ALPHA_NPEW_90 = [
  [[-1.60,2.1],[-1.67,1.49],[-1.60,1.13],[-1.74,0.78],[-1.81,0.28],[-1.74,-0.15],[-1.67,-0.65],[-1.53,-0.93],[-1.39,-1.15],[-1.24,-1.36],[-1.17,-1.64],[-1.10,-1.86],[-0.96,-2.1]],
  [[1.71,2.1],[1.64,1.63],[1.61,1.13],[1.57,0.63],[1.54,0.21],[1.50,-0.15],[1.43,-0.51],[1.36,-0.79],[1.29,-1.07],[1.22,-1.36],[1.18,-1.64],[1.22,-2.1]]
];
const BETA_ALPHA_HBA_90 = [
  [[-1.81,2.1],[-1.74,1.63],[-1.67,1.27],[-1.81,0.85],[-1.89,0.42],[-1.81,0.06],[-1.74,-0.29],[-1.67,-0.65],[-1.53,-1.0],[-1.39,-1.29],[-1.24,-1.50],[-1.10,-1.79],[-1.03,-2.1]],
  [[1.93,2.1],[1.82,1.63],[1.79,1.13],[1.71,0.63],[1.68,0.21],[1.61,-0.22],[1.54,-0.65],[1.47,-1.0],[1.36,-1.29],[1.25,-1.57],[1.32,-1.79],[1.39,-2.1]]
];

// ---- tables built from the arrays above ----
const DIAG = [
  [[H0_NPE, H0_HBA, H0_NPEW], H0_CI],
  [[MMIN_NPE, MMIN_HBA, MMIN_NPEW], MMIN_CI],
  [[MMAX_NPE, MMAX_HBA, MMAX_NPEW], MMAX_CI],
  [[ALPHA_NPE, ALPHA_HBA, ALPHA_NPEW], ALPHA_CI],
  [[BETA_NPE, BETA_HBA, BETA_NPEW], BETA_CI]
];

// [row, col, [npe50, npe90], [hba50, hba90], [npew50, npew90]]
const PAIRS = [
  [1, 0, [MMIN_H0_NPE_50, MMIN_H0_NPE_90], [MMIN_H0_HBA_50, MMIN_H0_HBA_90], [MMIN_H0_NPEW_50, MMIN_H0_NPEW_90]],
  [2, 0, [MMAX_H0_NPE_50, MMAX_H0_NPE_90], [MMAX_H0_HBA_50, MMAX_H0_HBA_90], [MMAX_H0_NPEW_50, MMAX_H0_NPEW_90]],
  [3, 0, [ALPHA_H0_NPE_50, ALPHA_H0_NPE_90], [ALPHA_H0_HBA_50, ALPHA_H0_HBA_90], [ALPHA_H0_NPEW_50, ALPHA_H0_NPEW_90]],
  [4, 0, [BETA_H0_NPE_50, BETA_H0_NPE_90], [BETA_H0_HBA_50, BETA_H0_HBA_90], [BETA_H0_NPEW_50, BETA_H0_NPEW_90]],
  [2, 1, [MMAX_MMIN_NPE_50, MMAX_MMIN_NPE_90], [MMAX_MMIN_HBA_50, MMAX_MMIN_HBA_90], [MMAX_MMIN_NPEW_50, MMAX_MMIN_NPEW_90]],
  [3, 1, [ALPHA_MMIN_NPE_50, ALPHA_MMIN_NPE_90], [ALPHA_MMIN_HBA_50, ALPHA_MMIN_HBA_90], [ALPHA_MMIN_NPEW_50, ALPHA_MMIN_NPEW_90]],
  [4, 1, [BETA_MMIN_NPE_50, BETA_MMIN_NPE_90], [BETA_MMIN_HBA_50, BETA_MMIN_HBA_90], [BETA_MMIN_NPEW_50, BETA_MMIN_NPEW_90]],
  [3, 2, [ALPHA_MMAX_NPE_50, ALPHA_MMAX_NPE_90], [ALPHA_MMAX_HBA_50, ALPHA_MMAX_HBA_90], [ALPHA_MMAX_NPEW_50, ALPHA_MMAX_NPEW_90]],
  [4, 2, [BETA_MMAX_NPE_50, BETA_MMAX_NPE_90], [BETA_MMAX_HBA_50, BETA_MMAX_HBA_90], [BETA_MMAX_NPEW_50, BETA_MMAX_NPEW_90]],
  [4, 3, [BETA_ALPHA_NPE_50, BETA_ALPHA_NPE_90], [BETA_ALPHA_HBA_50, BETA_ALPHA_HBA_90], [BETA_ALPHA_NPEW_50, BETA_ALPHA_NPEW_90]]
];

// styles: npe, hba, npe weighted (higher order is drawn earlier)
const STYLES = [
  { line: '#2b86dc', inner: '#1f4f8f', outer: '#2b8fe3', fill: 'rgba(43,134,220,0.22)', order: 6 },
  { line: '#8cc63f', inner: '#4a7b2b', outer: '#8fc943', fill: 'rgba(140,198,63,0.25)', order: 4 },
  { line: '#e8403a', inner: '#a3181c', outer: '#e8443d', fill: 'rgba(232,64,58,0.25)', order: 2 }
];

// ---- layout ----
const COL_X = [95, 292, 490, 688, 885];
const ROW_Y = [10, 207, 404, 602, 799];
const PW = 187, PH = 188, PAD = 60;

function fmt(v, d) {
  const s = Math.abs(v).toFixed(d);
  return v < 0 ? '\u2212' + s : s;
}

const cornerPlugin = {
  id: 'corner',
  afterDraw(chart, args, o) {
    const { ctx, chartArea: a } = chart;
    const sx = chart.scales.x, sy = chart.scales.y;
    ctx.save();
    ctx.strokeStyle = '#9a9a9a';
    ctx.lineWidth = 1.4;
    ctx.strokeRect(a.left, a.top, a.right - a.left, a.bottom - a.top);

    ctx.font = '14px "DejaVu Sans"';
    ctx.fillStyle = '#1a1a1a';
    ctx.strokeStyle = '#333';
    ctx.lineWidth = 1;
    ctx.textAlign = 'center';
    ctx.textBaseline = 'middle';
    if (o.xLabels) {
      o.xLabels.forEach(v => {
        const x = sx.getPixelForValue(v), t = fmt(v, o.xDec);
        ctx.beginPath(); ctx.moveTo(x, a.bottom); ctx.lineTo(x, a.bottom + 5); ctx.stroke();
        const b = (ctx.measureText(t).width + 10) * Math.SQRT1_2;
        ctx.save();
        ctx.translate(x, a.bottom + 9 + b / 2);
        ctx.rotate(-Math.PI / 4);
        ctx.fillText(t, 0, 0);
        ctx.restore();
      });
    }
    if (o.yLabels) {
      o.yLabels.forEach(v => {
        const y = sy.getPixelForValue(v), t = fmt(v, o.yDec);
        ctx.beginPath(); ctx.moveTo(a.left - 5, y); ctx.lineTo(a.left, y); ctx.stroke();
        const b = (ctx.measureText(t).width + 10) * Math.SQRT1_2;
        ctx.save();
        ctx.translate(a.left - 14 - b / 2, y);
        ctx.rotate(-Math.PI / 4);
        ctx.fillText(t, 0, 0);
        ctx.restore();
      });
    }
    ctx.restore();
  }
};

function curve(points, color, width, order, extra) {
  return Object.assign({
    data: points.map(p => ({ x: p[0], y: p[1] })),
    borderColor: color,
    borderWidth: width,
    pointRadius: 0,
    tension: 0.35,
    fill: false,
    clip: 0,
    order: order
  }, extra || {});
}

function truthLine(xs, ys) {
  return curve([[xs[0], ys[0]], [xs[1], ys[1]]], '#000', 1.4, -1, { borderDash: [5, 3.5], tension: 0 });
}

function makePanel(row, col, datasets, yRange, yTicks, gridY, labelY) {
  const cv = document.createElement('canvas');
  cv.width = PW + 2 * PAD;
  cv.height = PH + 2 * PAD;
  cv.style.left = (COL_X[col] - PAD) + 'px';
  cv.style.top = (ROW_Y[row] - PAD) + 'px';
  document.body.appendChild(cv);

  const axis = (range, ticks, grid) => ({
    type: 'linear',
    min: range[0],
    max: range[1],
    grid: { display: grid, color: '#d5d5d5', lineWidth: 1, drawTicks: false },
    border: { display: false },
    ticks: { display: false },
    afterBuildTicks: s => { s.ticks = ticks.map(v => ({ value: v })); }
  });

  const bottom = row === 4;
  new Chart(cv, {
    type: 'line',
    data: { datasets: datasets },
    options: {
      responsive: false,
      animation: false,
      events: [],
      layout: { padding: PAD },
      elements: { line: { capBezierPoints: false }, point: { radius: 0 } },
      plugins: {
        legend: { display: false },
        tooltip: { enabled: false },
        corner: {
          xLabels: bottom ? TICKS[col] : null, xDec: DECIMALS[col],
          yLabels: labelY ? TICKS[row] : null, yDec: DECIMALS[row]
        }
      },
      scales: {
        x: axis(RANGES[col], TICKS[col], bottom),
        y: axis(yRange, yTicks, gridY)
      }
    },
    plugins: [cornerPlugin]
  });
}

// diagonal panels: each method draws its line, then its shaded interval on top
DIAG.forEach(([curves, cis], i) => {
  const sets = [];
  curves.forEach((c, k) => {
    const st = STYLES[k];
    const ci = cis[k];
    sets.push(curve(c, st.line, 1.7, st.order));
    if (ci) {
      sets.push(curve(c.filter(p => p[0] >= ci[0] && p[0] <= ci[1]), 'rgba(0,0,0,0)', 0, st.order - 1,
        { fill: 'origin', backgroundColor: st.fill }));
    }
  });
  sets.push(truthLine([TRUTH[i], TRUTH[i]], [0, 1]));
  makePanel(i, i, sets, [0, 1], [], false, false);
});

// off-diagonal panels
PAIRS.forEach(([row, col, ...methods]) => {
  const sets = [];
  methods.forEach(([inner, outer], k) => {
    const st = STYLES[k];
    outer.forEach(piece => sets.push(curve(piece, st.outer, 1.6, st.order)));
    inner.forEach(piece => sets.push(curve(piece, st.inner, 1.6, st.order)));
  });
  sets.push(truthLine([TRUTH[col], TRUTH[col]], RANGES[row]));
  sets.push(truthLine(RANGES[col], [TRUTH[row], TRUTH[row]]));
  makePanel(row, col, sets, RANGES[row], TICKS[row], col === 0, col === 0);
});
</script>
</body>
</html>
